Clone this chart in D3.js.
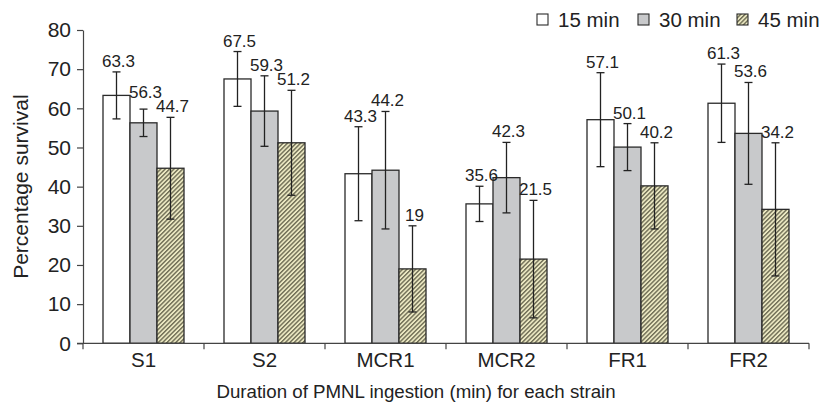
<!DOCTYPE html>
<html>
<head>
<meta charset="utf-8">
<script src="https://cdn.jsdelivr.net/npm/d3@7"></script>
<style>
  html, body { margin: 0; padding: 0; background: #fff; }
  svg { display: block; }
  text { font-family: "Liberation Sans", Arial, Helvetica, sans-serif; fill: #222; }
</style>
</head>
<body>
<svg id="chart" width="832" height="409"></svg>
<script>
const categories = ["S1", "S2", "MCR1", "MCR2", "FR1", "FR2"];
const seriesNames = ["15 min", "30 min", "45 min"];
const values15 = [63.3, 67.5, 43.3, 35.6, 57.1, 61.3];
const values30 = [56.3, 59.3, 44.2, 42.3, 50.1, 53.6];
const values45 = [44.7, 51.2, 19, 21.5, 40.2, 34.2];
const errors15 = [6, 7, 12, 4.5, 12, 10];
const errors30 = [3.5, 9, 15, 9, 6, 13];
const errors45 = [13, 13.4, 11, 15, 11, 17];
const yTicks = [0, 10, 20, 30, 40, 50, 60, 70, 80];
const yTitle = "Percentage survival";
const xTitle = "Duration of PMNL ingestion (min) for each strain";

const seriesValues = [values15, values30, values45];
const seriesErrors = [errors15, errors30, errors45];

const svg = d3.select("#chart");
const W = 832, H = 409;
const plot = { left: 83, right: 809, top: 30, bottom: 343.3 };

const x = d3.scaleBand().domain(categories).range([plot.left, plot.right]).padding(0);
const inner = d3.scaleBand().domain(seriesNames).range([20, x.bandwidth() - 20]).padding(0);
const y = d3.scaleLinear().domain([0, 80]).range([plot.bottom, plot.top]);

// pattern
const defs = svg.append("defs");
const pat = defs.append("pattern")
  .attr("id", "hatch")
  .attr("patternUnits", "userSpaceOnUse")
  .attr("width", 3.1).attr("height", 3.1)
  .attr("patternTransform", "rotate(45)");
pat.append("rect").attr("width", 3.1).attr("height", 3.1).attr("fill", "#ebe8c2");
pat.append("line").attr("x1", 0.7).attr("y1", 0).attr("x2", 0.7).attr("y2", 3.1)
  .attr("stroke", "#6f6d55").attr("stroke-width", 1.4);

const fills = ["#ffffff", "#c8c9cb", "url(#hatch)"];

const data = [];
categories.forEach((c, i) => {
  seriesNames.forEach((s, j) => {
    data.push({ cat: c, ci: i, series: s, j: j, v: seriesValues[j][i], e: seriesErrors[j][i] });
  });
});

// y axis
const yAxis = d3.axisLeft(y).tickValues(yTicks).tickSize(6).tickSizeOuter(0).tickPadding(6);
const gy = svg.append("g").attr("transform", `translate(${plot.left},0)`).call(yAxis);
gy.select(".domain").attr("stroke", "#444").attr("stroke-width", 1.2);
gy.selectAll(".tick line").attr("stroke", "#444").attr("stroke-width", 1.2);
gy.selectAll(".tick text").style("font-size", "21px").attr("fill", "#222")
  .attr("font-family", "Liberation Sans, Arial, sans-serif");

// bars
const bars = svg.append("g");
bars.selectAll("rect").data(data).join("rect")
  .attr("x", d => x(d.cat) + inner(d.series))
  .attr("y", d => y(d.v))
  .attr("width", inner.bandwidth())
  .attr("height", d => y(0) - y(d.v))
  .attr("fill", d => fills[d.j])
  .attr("stroke", "#2a2a2a")
  .attr("stroke-width", 1.3);

// x axis line and boundary ticks
const xAxis = d3.axisBottom(x).tickSize(0).tickPadding(4).tickSizeOuter(0);
const gx = svg.append("g").attr("transform", `translate(0,${plot.bottom})`).call(xAxis);
gx.select(".domain").attr("stroke", "#444").attr("stroke-width", 1.2)
  .attr("d", `M${plot.left - 6},0H${plot.right}`);
gx.selectAll(".tick text").style("font-size", "20.5px").attr("fill", "#222")
  .attr("font-family", "Liberation Sans, Arial, sans-serif")
  .attr("dy", "0.95em");
const boundaries = categories.map(c => x(c)).concat([x(categories[categories.length - 1]) + x.bandwidth()]);
gx.selectAll("line.bt").data(boundaries).join("line").attr("class", "bt")
  .attr("x1", d => d).attr("x2", d => d).attr("y1", 0).attr("y2", 6)
  .attr("stroke", "#444").attr("stroke-width", 1.2);

// error bars
const eb = svg.append("g").attr("stroke", "#222").attr("stroke-width", 1.3);
data.forEach(d => {
  const cx = x(d.cat) + inner(d.series) + inner.bandwidth() / 2;
  const yt = y(d.v + d.e), yb = y(d.v - d.e);
  eb.append("line").attr("x1", cx).attr("x2", cx).attr("y1", yt).attr("y2", yb);
  eb.append("line").attr("x1", cx - 4).attr("x2", cx + 4).attr("y1", yt).attr("y2", yt);
  eb.append("line").attr("x1", cx - 4).attr("x2", cx + 4).attr("y1", yb).attr("y2", yb);
});

// value labels (placed above the error cap, lifted if they collide with the neighbour on the right)
const labelSize = 17, lineH = 14.5;
const labels = svg.append("g").selectAll("text").data(data).join("text")
  .attr("x", d => x(d.cat) + inner(d.series) + inner.bandwidth() / 2 + 2)
  .attr("text-anchor", "middle")
  .style("font-size", labelSize + "px")
  .text(d => d.v);
labels.each(function(d) {
  d.lx = x(d.cat) + inner(d.series) + inner.bandwidth() / 2 + 2;
  d.ly = y(d.v + d.e) - 5;
  d.w = this.getComputedTextLength();
});
categories.forEach((c, i) => {
  const grp = data.filter(d => d.ci === i);
  for (let j = grp.length - 2; j >= 0; j--) {
    const a = grp[j], b = grp[j + 1];
    const hOverlap = (a.lx + a.w / 2) > (b.lx - b.w / 2);
    const vOverlap = Math.abs(a.ly - b.ly) < lineH;
    if (hOverlap && vOverlap && a.ly > b.ly - lineH) a.ly = b.ly - lineH;
  }
});
labels.attr("y", d => d.ly);

// axis titles
svg.append("text")
  .attr("transform", `translate(28,${(plot.top + plot.bottom) / 2}) rotate(-90)`)
  .attr("text-anchor", "middle")
  .style("font-size", "21px")
  .text(yTitle);
svg.append("text")
  .attr("x", W / 2).attr("y", 398)
  .attr("text-anchor", "middle")
  .style("font-size", "18.7px")
  .text(xTitle);

// legend
const legendX = [537, 638, 737];
const lg = svg.append("g");
seriesNames.forEach((s, j) => {
  lg.append("rect").attr("x", legendX[j]).attr("y", 14).attr("width", 11).attr("height", 11)
    .attr("fill", fills[j]).attr("stroke", "#2a2a2a").attr("stroke-width", 1.1);
  lg.append("text").attr("x", legendX[j] + 21).attr("y", 27)
    .style("font-size", "20.5px").text(s);
});
</script>
</body>
</html>
